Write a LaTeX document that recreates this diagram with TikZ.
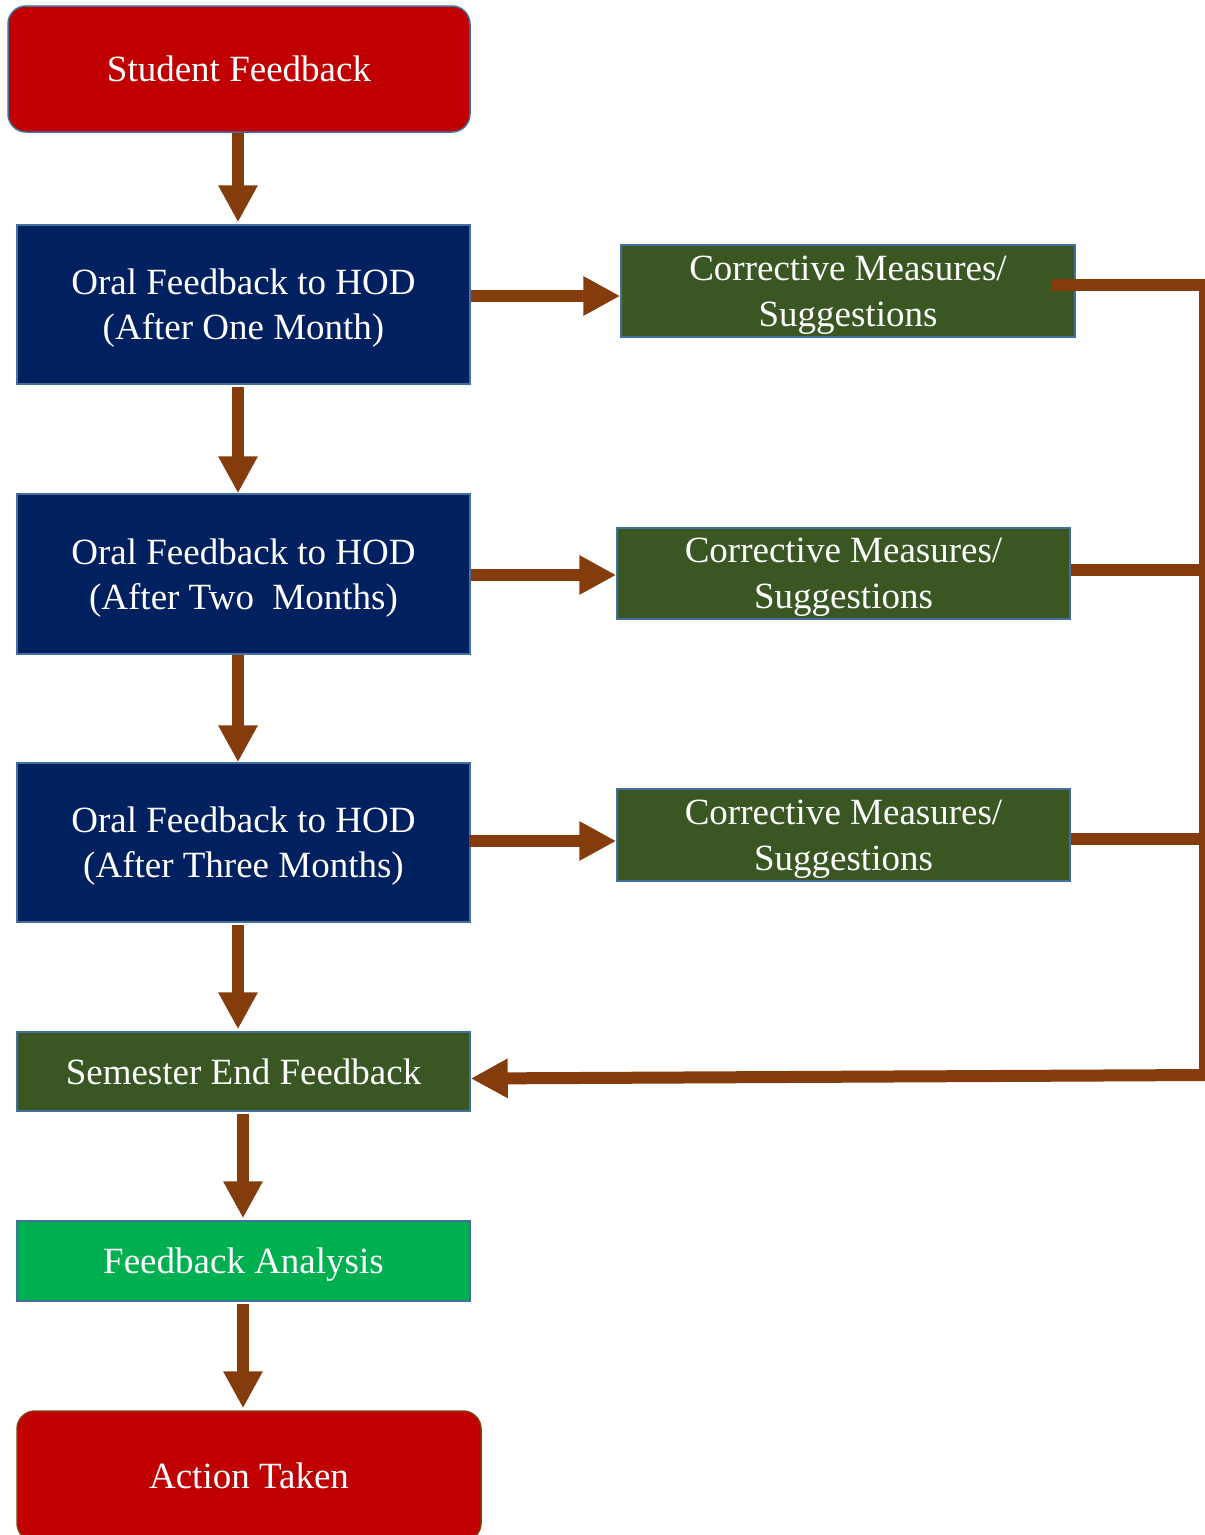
\documentclass[tikz,border=0pt]{standalone}
\usepackage{fontspec}
\setmainfont{Liberation Serif}
\usetikzlibrary{arrows.meta}
\definecolor{boxred}{HTML}{C00000}
\definecolor{boxnavy}{HTML}{002060}
\definecolor{boxolive}{HTML}{3A5623}
\definecolor{boxgreen}{HTML}{00B050}
\definecolor{edgeblue}{HTML}{41719C}
\definecolor{flow}{HTML}{843C0C}
\tikzset{
  box/.style={draw=edgeblue, line width=1.5pt, text=white, align=center,
    inner sep=0pt, text depth=0pt, font=\fontsize{37}{45}\selectfont},
  roundbox/.style={box, rounded corners=18pt},
  flowarrow/.style={draw=flow, line width=12pt,
    -{Triangle[length=37pt,width=37pt]}},
  flowline/.style={draw=flow, line width=12pt},
  busline/.style={draw=flow, line width=6pt}
}
\begin{document}
\begin{tikzpicture}[x=1pt,y=-1pt]
\useasboundingbox (0,0) rectangle (1205,1535);

% main column
\node[roundbox, fill=boxred, minimum width=462pt, minimum height=126pt]
  (sf) at (239,69) {Student Feedback};
\node[box, fill=boxnavy, minimum width=453pt, minimum height=159pt]
  (o1) at (243.5,304.5) {Oral Feedback to HOD\\(After One Month)};
\node[box, fill=boxnavy, minimum width=453pt, minimum height=160pt]
  (o2) at (243.5,574) {Oral Feedback to HOD\\(After Two\ \ Months)};
\node[box, fill=boxnavy, minimum width=453pt, minimum height=159pt]
  (o3) at (243.5,842.5) {Oral Feedback to HOD\\(After Three Months)};
\node[box, fill=boxolive, minimum width=453pt, minimum height=79pt]
  (se) at (243.5,1071.5) {Semester End Feedback};
\node[box, fill=boxgreen, minimum width=453pt, minimum height=80pt]
  (fa) at (243.5,1261) {Feedback Analysis};
\node[roundbox, draw=flow, fill=boxred, minimum width=464pt, minimum height=130pt]
  (at) at (249,1476) {Action Taken};

% corrective measures column
\node[box, fill=boxolive, minimum width=454pt, minimum height=92pt,
  font=\fontsize{37}{46}\selectfont]
  (c1) at (848,291) {Corrective Measures/\\Suggestions};
\node[box, fill=boxolive, minimum width=453pt, minimum height=91pt,
  font=\fontsize{37}{46}\selectfont]
  (c2) at (843.5,573.5) {Corrective Measures/\\Suggestions};
\node[box, fill=boxolive, minimum width=453pt, minimum height=92pt,
  font=\fontsize{37}{46}\selectfont]
  (c3) at (843.5,835) {Corrective Measures/\\Suggestions};

% downward flow
\draw[flowarrow, shorten >=2pt] ([xshift=-1pt]sf.south) -- ([xshift=-5.5pt]o1.north);
\draw[flowarrow] ([xshift=-5.5pt,yshift=-2pt]o1.south) -- ([xshift=-5.5pt]o2.north);
\draw[flowarrow] ([xshift=-5.5pt]o2.south) -- ([xshift=-5.5pt]o3.north);
\draw[flowarrow, shorten >=2pt] ([xshift=-5.5pt,yshift=-2pt]o3.south) -- ([xshift=-5.5pt]se.north);
\draw[flowarrow, shorten >=2pt] ([xshift=-0.5pt,yshift=-2pt]se.south) -- ([xshift=-0.5pt]fa.north);
\draw[flowarrow, shorten >=2pt] ([xshift=-0.5pt,yshift=-2pt]fa.south) -- ([xshift=-6pt]at.north);

% sideways flow to corrective measures
\coordinate (a1) at ([yshift=8.5pt]o1.east);
\draw[flowarrow] (a1) -- (a1 -| c1.west);
\draw[flowarrow] ([yshift=-1pt]o2.east) -- ([yshift=-1pt]o2.east -| c2.west);
\draw[flowarrow] ([xshift=-2pt,yshift=1.5pt]o3.east) -- ([yshift=1.5pt]o3.east -| c3.west);

% feedback bus on the right
\coordinate (busT) at (1202,279);
\coordinate (busB) at (1202,1081);
\coordinate (b1) at (1205,285);
\coordinate (b2) at (1205,570);
\coordinate (b3) at (1205,839);
\coordinate (b4) at (1205,1075);
\draw[busline] (busT) -- (busB);
\draw[flowline] ([xshift=-25pt]c1.east |- b1) -- (b1);
\draw[flowline] (c2.east |- b2) -- (b2);
\draw[flowline] (c3.east |- b3) -- (b3);
\draw[flowarrow] (b4) -- ([yshift=-7pt]se.east);
\end{tikzpicture}
\end{document}
